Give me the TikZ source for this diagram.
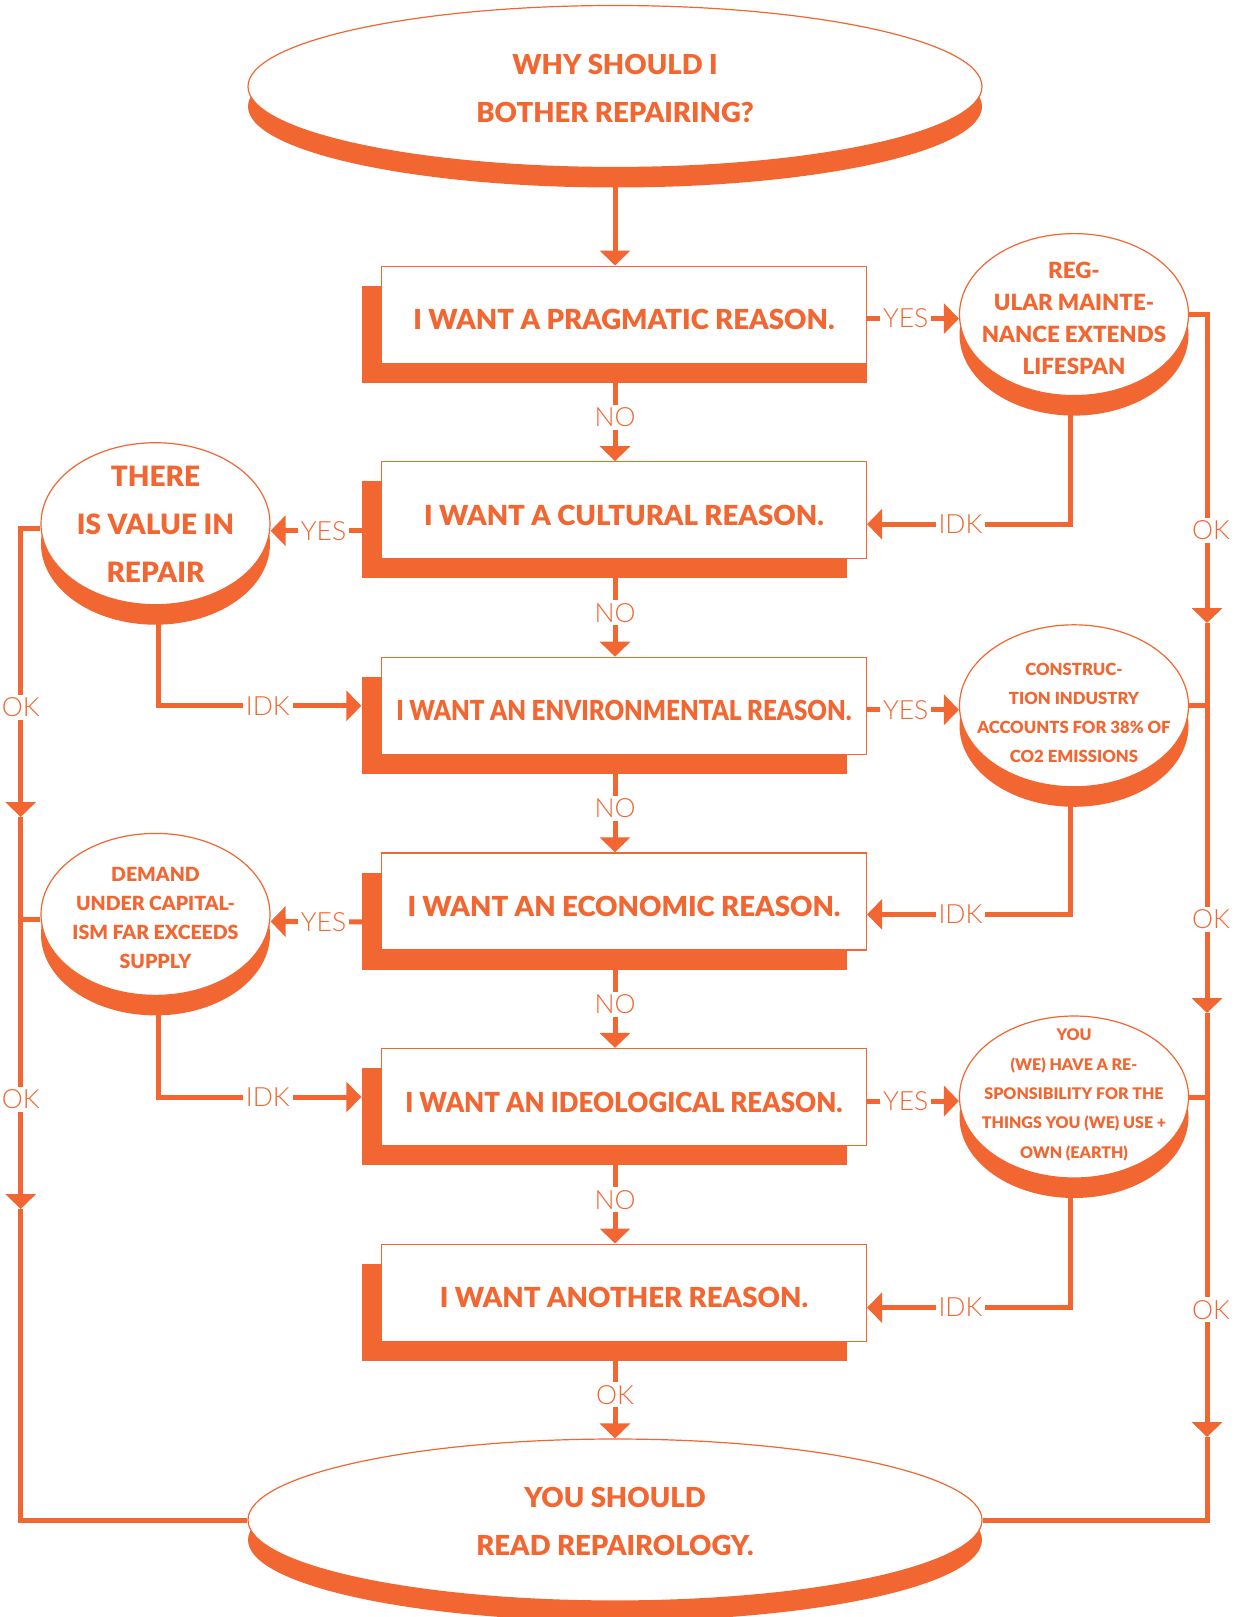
\documentclass[tikz,border=0pt]{standalone}
\usepackage{fontspec}
\setmainfont{Lato}
\newfontfamily\thinfont{Lato Light}
\newfontfamily\heavyfont{Lato Black}
\usetikzlibrary{arrows.meta,shapes.geometric,shadows}
\definecolor{tone}{HTML}{F26632}

\tikzset{
  reason/.style={draw=tone, line width=1.2pt, fill=white, text=tone,
    minimum width=485pt, minimum height=97pt, inner sep=0pt,
    text height=30pt, text depth=0pt,
    font=\heavyfont\fontsize{27.6}{34}\selectfont,
    drop shadow={opacity=1, fill=tone, shadow xshift=-19.6pt, shadow yshift=-19.6pt}},
  pill/.style={ellipse, draw=tone, line width=1.2pt, fill=white, inner sep=0pt,
    drop shadow={opacity=1, fill=tone, shadow xshift=0pt, shadow yshift=-20pt}},
  bigpill/.style={pill, minimum width=734pt, minimum height=162pt},
  smallpill/.style={pill, minimum width=229pt, minimum height=162pt},
  note/.style 2 args={text=tone, align=center, inner sep=0pt,
    font=\heavyfont\fontsize{#1}{#2}\selectfont},
  word/.style={text=tone, fill=white, inner sep=3pt,
    font=\thinfont\fontsize{26.5}{26.5}\selectfont},
  link/.style={draw=tone, line width=5pt},
  flow/.style={-{Triangle[length=15pt,width=30pt]}}
}

\begin{document}
\begin{tikzpicture}[x=1pt,y=-1pt]
\useasboundingbox (0,0) rectangle (1246,1617);

% start and end
\node[bigpill] (q) at (615,86.5) {};
\node[note={27.5}{48}] (qtext) at ([yshift=-1.5pt]q) {WHY SHOULD I\\BOTHER REPAIRING?};
\node[bigpill] (a) at (615,1520) {};
\node[note={27.5}{48}] (atext) at ([yshift=-1.5pt]a) {YOU SHOULD\\READ REPAIROLOGY.};

% the six questions
\node[reason] (b1) at (624,314.6) {I WANT A PRAGMATIC REASON.};
\node[reason] (b2) at (624,510.2) {I WANT A CULTURAL REASON.};
\node[reason] (b3) at (624,705.8) {\scalebox{0.875}[1]{I WANT AN ENVIRONMENTAL REASON.}};
\node[reason] (b4) at (624,901.4) {I WANT AN ECONOMIC REASON.};
\node[reason] (b5) at (624,1097) {\scalebox{0.94}[1]{I WANT AN IDEOLOGICAL REASON.}};
\node[reason] (b6) at (624,1292.6) {I WANT ANOTHER REASON.};
\fill[tone] ([yshift=0.6pt]b1.south east) rectangle ([xshift=-40pt,yshift=-19.6pt]b1.south east);

% answers on the right
\node[smallpill] (r1) at (1074,314.6) {};
\node[note={22.3}{32}] (r1text) at ([yshift=-3.5pt]r1) {REG-\\ULAR MAINTE-\\NANCE EXTENDS\\LIFESPAN};
\node[smallpill] (r2) at (1074,705.8) {};
\node[note={16.7}{29.2}] (r2text) at ([yshift=-7pt]r2) {CONSTRUC-\\TION INDUSTRY\\ACCOUNTS FOR 38\% OF\\CO2 EMISSIONS};
\node[smallpill] (r3) at (1074,1097) {};
\node[note={16}{29.4}] (r3text) at ([yshift=2pt]r3) {YOU\\(WE) HAVE A RE-\\SPONSIBILITY FOR THE\\THINGS YOU (WE) USE +\\OWN (EARTH)};

% answers on the left
\node[smallpill] (l1) at (155.5,523.7) {};
\node[note={28}{48}] (l1text) at ([yshift=-1pt]l1) {THERE\\IS VALUE IN\\REPAIR};
\node[smallpill] (l2) at (155.5,914.4) {};
\node[note={19.5}{29.2}] (l2text) at ([yshift=-3.6pt]l2) {DEMAND\\UNDER CAPITAL-\\ISM FAR EXCEEDS\\SUPPLY};

% arrow tips along the side rails
\coordinate (ok1) at (20.7,817);
\coordinate (ok2) at (20.7,1209);
\coordinate (ok3) at (1207,623);
\coordinate (ok4) at (1207,1013);
\coordinate (ok5) at (1207,1437);

% down the middle
\draw[link,flow] (q.south) -- (q.south |- b1.north);
\draw[link,flow] (q.south |- b1.south) -- node[word,pos=0.55]{NO} (q.south |- b2.north);
\draw[link,flow] (q.south |- b2.south) -- node[word,pos=0.55]{NO} (q.south |- b3.north);
\draw[link,flow] (q.south |- b3.south) -- node[word,pos=0.55]{NO} (q.south |- b4.north);
\draw[link,flow] (q.south |- b4.south) -- node[word,pos=0.55]{NO} (q.south |- b5.north);
\draw[link,flow] (q.south |- b5.south) -- node[word,pos=0.55]{NO} (q.south |- b6.north);
\draw[link,flow] (q.south |- b6.south) -- node[word,pos=0.55]{OK} (a.north);

% yes
\draw[link,flow] ([yshift=-4pt]b1.east) -- node[word,pos=0.42]{YES} ([yshift=-4pt]r1.west);
\draw[link,flow] ([yshift=-4pt]b3.east) -- node[word,pos=0.42]{YES} ([yshift=-4pt]r2.west);
\draw[link,flow] ([yshift=-4pt]b5.east) -- node[word,pos=0.42]{YES} ([yshift=-4pt]r3.west);
\draw[link,flow] ([yshift=-20.5pt]b2.west) -- node[word,pos=0.52]{YES} ([yshift=-7pt]l1.east);
\draw[link,flow] ([yshift=-20.5pt]b4.west) -- node[word,pos=0.52]{YES} ([yshift=-7pt]l2.east);

% idk
\draw[link,flow] ([xshift=-4pt]r1.south) |- node[word,pos=0.77]{IDK} ([yshift=-14pt]b2.east);
\draw[link,flow] ([xshift=-4pt]r2.south) |- node[word,pos=0.77]{IDK} ([yshift=-13pt]b4.east);
\draw[link,flow] ([xshift=-4pt]r3.south) |- node[word,pos=0.77]{IDK} ([yshift=-15pt]b6.east);
\draw[link,flow] ([xshift=2.5pt]l1.south) |- node[word,pos=0.77]{IDK} ([xshift=-19.6pt]b3.west);
\draw[link,flow] ([xshift=2.5pt]l2.south) |- node[word,pos=0.77]{IDK} ([xshift=-19.6pt]b5.west);

% ok, left rail
\draw[link,flow] ([yshift=-5pt]l1.west) -| node[word,pos=0.81]{OK} (ok1);
\draw[link,flow] (ok1) -- node[word,pos=0.72]{OK} (ok2);
\draw[link] (ok2) |- (a.west);
\draw[link] ([yshift=-5pt]l2.west) -- ([yshift=-5pt]l2.west -| ok1);

% ok, right rail
\draw[link,flow] (r1.east) -| node[word,pos=0.85,xshift=4pt]{OK} (ok3);
\draw[link,flow] (ok3) -- node[word,pos=0.76,xshift=4pt]{OK} (ok4);
\draw[link,flow] (ok4) -- node[word,pos=0.7,xshift=4pt]{OK} (ok5);
\draw[link] (ok5) |- (a.east);
\draw[link] (r2.east) -- (r2.east -| ok3);
\draw[link] (r3.east) -- (r3.east -| ok3);
\end{tikzpicture}
\end{document}
